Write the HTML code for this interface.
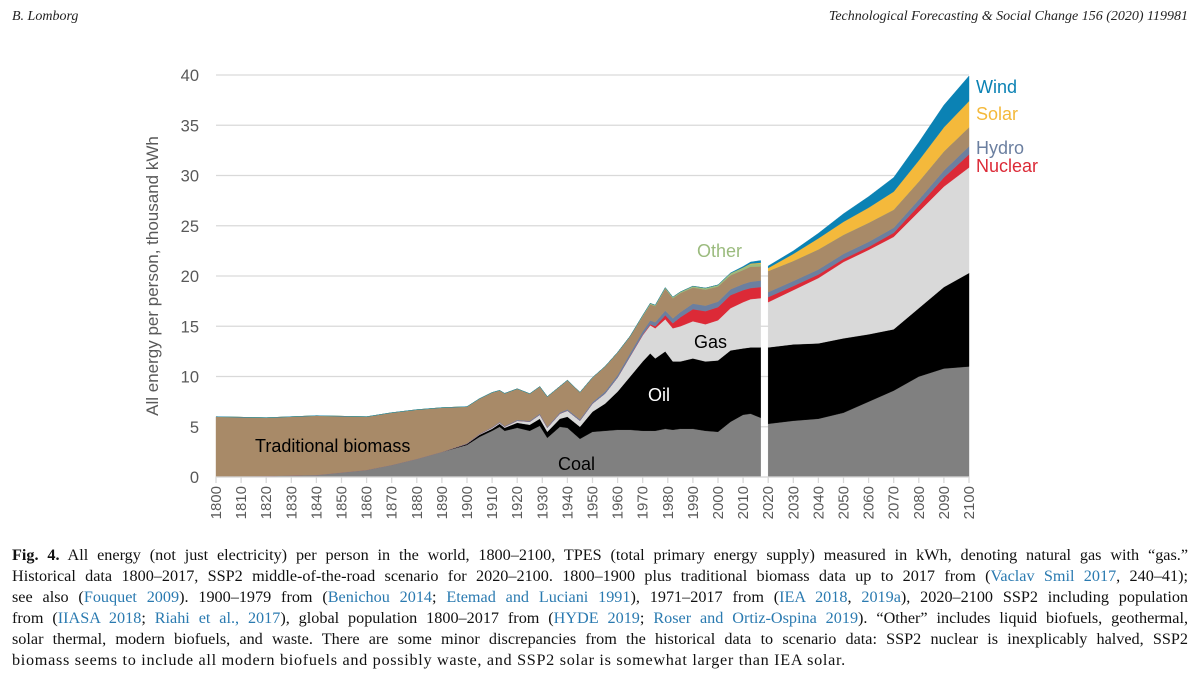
<!DOCTYPE html>
<html><head><meta charset="utf-8">
<style>
html,body{margin:0;padding:0;background:#fff;width:1200px;height:689px;overflow:hidden;position:relative;font-family:"Liberation Sans",sans-serif}
.hdr{position:absolute;top:9px;font:italic 14px "Liberation Serif",serif;color:#222}
#cap{position:absolute;left:12px;top:545px;width:1176px;font:16.2px/21px "Liberation Serif",serif;color:#111}
#cap div{text-align:justify;text-align-last:justify;white-space:nowrap;height:21px}
#cap div.last{text-align-last:left;letter-spacing:0.7px}
a{color:#2a7ab0;text-decoration:none}
</style></head><body>
<div class="hdr" style="left:12px">B. Lomborg</div>
<div class="hdr" style="right:12px">Technological Forecasting &amp; Social Change 156 (2020) 119981</div>
<svg id="chart" width="1200" height="540" style="position:absolute;left:0;top:0"></svg>
<div id="cap">
<div><b>Fig. 4.</b> All energy (not just electricity) per person in the world, 1800–2100, TPES (total primary energy supply) measured in kWh, denoting natural gas with “gas.”</div>
<div>Historical data 1800–2017, SSP2 middle-of-the-road scenario for 2020–2100. 1800–1900 plus traditional biomass data up to 2017 from (<a>Vaclav Smil 2017</a>, 240–41);</div>
<div>see also (<a>Fouquet 2009</a>). 1900–1979 from (<a>Benichou 2014</a>; <a>Etemad and Luciani 1991</a>), 1971–2017 from (<a>IEA 2018</a>, <a>2019a</a>), 2020–2100 SSP2 including population</div>
<div>from (<a>IIASA 2018</a>; <a>Riahi et al., 2017</a>), global population 1800–2017 from (<a>HYDE 2019</a>; <a>Roser and Ortiz-Ospina 2019</a>). “Other” includes liquid biofuels, geothermal,</div>
<div>solar thermal, modern biofuels, and waste. There are some minor discrepancies from the historical data to scenario data: SSP2 nuclear is inexplicably halved, SSP2</div>
<div class="last">biomass seems to include all modern biofuels and possibly waste, and SSP2 solar is somewhat larger than IEA solar.</div>
</div>
<script>
// Historical data (thousand kWh per person)
const histYears=[1800,1820,1840,1860,1870,1880,1890,1900,1905,1910,1913,1915,1920,1925,1929,1932,1937,1940,1945,1950,1955,1960,1965,1970,1973,1975,1979,1982,1985,1990,1995,2000,2005,2010,2013,2017];
const histCoal=[0.05,0.1,0.2,0.7,1.2,1.8,2.5,3.2,4.0,4.6,5.0,4.6,4.9,4.6,5.1,3.9,5.0,4.9,3.8,4.5,4.6,4.7,4.7,4.6,4.6,4.6,4.8,4.7,4.8,4.8,4.6,4.5,5.5,6.2,6.3,5.9];
const histOil=[0,0,0,0,0,0,0,0.1,0.2,0.2,0.3,0.3,0.5,0.6,0.7,0.6,0.8,1.1,1.2,2.0,2.7,3.8,5.3,6.9,7.7,7.2,7.7,6.8,6.7,7.0,6.9,7.1,7.1,6.6,6.6,7.0];
const histGas=[0,0,0,0,0,0,0,0,0.05,0.1,0.1,0.1,0.2,0.3,0.4,0.4,0.5,0.6,0.6,0.8,1.0,1.4,2.0,2.6,2.8,3.0,3.2,3.3,3.5,3.7,3.7,4.0,4.2,4.6,4.8,4.9];
const histNuclear=[0,0,0,0,0,0,0,0,0,0,0,0,0,0,0,0,0,0,0,0,0,0,0.02,0.05,0.1,0.2,0.4,0.5,0.9,1.2,1.3,1.3,1.3,1.2,1.1,1.1];
const histHydro=[0,0,0,0,0,0,0,0.05,0.05,0.06,0.07,0.07,0.08,0.09,0.1,0.1,0.12,0.13,0.13,0.15,0.2,0.25,0.3,0.35,0.38,0.4,0.45,0.48,0.5,0.55,0.55,0.55,0.58,0.6,0.63,0.65];
const histBiomass=[5.95,5.8,5.9,5.3,5.2,4.9,4.4,3.65,3.5,3.45,3.15,3.25,3.1,2.7,2.7,3.0,2.6,2.9,2.7,2.45,2.5,2.25,1.7,1.5,1.6,1.6,2.2,2.0,1.9,1.6,1.6,1.5,1.4,1.4,1.5,1.4];
const histOther=[0,0,0,0,0,0,0,0,0,0,0,0,0,0,0,0,0,0,0,0,0,0,0,0.08,0.1,0.1,0.1,0.12,0.12,0.14,0.15,0.16,0.18,0.22,0.25,0.27];
const histSolar=[0,0,0,0,0,0,0,0,0,0,0,0,0,0,0,0,0,0,0,0,0,0,0,0,0,0,0,0,0,0,0,0,0.01,0.03,0.06,0.1];
const histWind=[0,0,0,0,0,0,0,0,0,0,0,0,0,0,0,0,0,0,0,0,0,0,0,0,0,0,0,0,0,0,0,0.01,0.04,0.1,0.15,0.22];
// SSP2 scenario
const projYears=[2020,2030,2040,2050,2060,2070,2080,2090,2100];
const projCoal=[5.3,5.6,5.8,6.4,7.5,8.6,10.0,10.8,11.0];
const projOil=[7.6,7.6,7.5,7.4,6.7,6.1,6.8,8.1,9.3];
const projGas=[4.5,5.4,6.5,7.6,8.4,9.2,9.6,10.0,10.5];
const projNuclear=[0.5,0.4,0.35,0.3,0.3,0.4,0.6,0.9,1.3];
const projHydro=[0.5,0.5,0.5,0.5,0.5,0.5,0.6,0.7,0.8];
const projBiomass=[2.1,2.0,2.0,1.9,1.9,1.8,1.8,1.9,1.9];
const projOther=[0,0,0,0,0,0,0,0,0];
const projSolar=[0.3,0.7,1.1,1.3,1.5,1.8,2.1,2.4,2.6];
const projWind=[0.2,0.3,0.5,0.8,1.1,1.4,1.8,2.2,2.5];
const yTicks=[0,5,10,15,20,25,30,35,40];

const NS='http://www.w3.org/2000/svg';
const svg=document.getElementById('chart');
const X0=216,X1=969,Y0=477,Y1=75;
const xs=y=>X0+(y-1800)/300*(X1-X0);
const ys=v=>Y0-v/40*(Y0-Y1);
function mk(tag,attrs,parent){const e=document.createElementNS(NS,tag);for(const k in attrs)e.setAttribute(k,attrs[k]);(parent||svg).appendChild(e);return e;}

yTicks.forEach(t=>{
  const g=mk('line',{x1:X0,x2:X1,y1:ys(t),y2:ys(t),stroke:'#d9d9d9','stroke-width':1.3});
  
  
  const tx=mk('text',{x:199,y:ys(t)+6,'text-anchor':'end','font-size':16.5,fill:'#595959'});
  tx.textContent=t;
  
  
});

const colors=['#808080','#000000','#d9d9d9','#dc2a37','#6b7fa0','#a88a68','#9bbb7e','#f4b93b','#0b82b4'];
const names=['coal','oil','gas','nuclear','hydro','biomass','other','solar','wind'];
function drawStack(years,series,prefix){
  let base=years.map(()=>0);
  series.forEach((s,i)=>{
    const top=base.map((b,j)=>b+s[j]);
    let d='M'+years.map((y,j)=>xs(y)+','+ys(top[j])).join(' L');
    for(let j=years.length-1;j>=0;j--)d+=' L'+xs(years[j])+','+ys(base[j]);
    const p=mk('path',{d:d+'Z',fill:colors[i],stroke:colors[i],'stroke-width':0.4});
    
    
    base=top;
  });
}
drawStack(histYears,[histCoal,histOil,histGas,histNuclear,histHydro,histBiomass,histOther,histSolar,histWind],'historical');
drawStack(projYears,[projCoal,projOil,projGas,projNuclear,projHydro,projBiomass,projOther,projSolar,projWind],'ssp2');

const ax=mk('line',{x1:X0,x2:X1,y1:Y0,y2:Y0,stroke:'#d9d9d9','stroke-width':1.3});


for(let yr=1800;yr<=2100;yr+=10){
  const tk=mk('line',{x1:xs(yr),x2:xs(yr),y1:Y0,y2:Y0+6,stroke:'#d9d9d9','stroke-width':1.3});
  
  
  const t=mk('text',{x:0,y:0,'font-size':15,fill:'#595959','text-anchor':'end',transform:`translate(${xs(yr)+5},486) rotate(-90)`});
  t.textContent=yr;
  
  
}
const yt=mk('text',{x:0,y:0,'font-size':17,fill:'#595959','text-anchor':'middle',transform:'translate(158,276) rotate(-90)'});
yt.textContent='All energy per person, thousand kWh';



const labels=[['Traditional biomass',255,452,'#000','label-traditional-biomass'],['Coal',558,470,'#000','label-coal'],['Oil',648,401,'#fff','label-oil'],['Gas',694,348,'#000','label-gas'],['Other',697,257,'#9bbb7e','label-other'],['Wind',976,93,'#0b82b4','label-wind'],['Solar',976,120,'#f4b93b','label-solar'],['Hydro',976,154,'#6b7fa0','label-hydro'],['Nuclear',976,172,'#dc2a37','label-nuclear']];
labels.forEach(l=>{const t=mk('text',{x:l[1],y:l[2],'font-size':18,fill:l[3]});t.textContent=l[0];

});
</script>
</body></html>
